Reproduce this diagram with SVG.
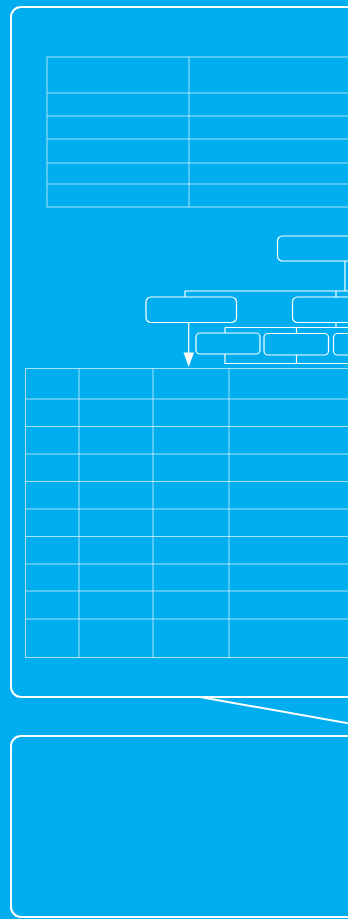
<svg xmlns="http://www.w3.org/2000/svg" width="348" height="919" viewBox="0 0 348 919">
<style>
.panel{fill:none;stroke:#fff;stroke-width:2}
.grid{fill:none;stroke:#fff;stroke-opacity:0.65;stroke-width:1}
.node{fill:none;stroke:#fff;stroke-width:1.2}
.conn{fill:none;stroke:#fff;stroke-width:1.2}
</style>
<defs>
<marker id="arr" markerWidth="10" markerHeight="14" refX="5" refY="14" orient="auto" markerUnits="userSpaceOnUse" viewBox="0 0 10 14">
<path d="M0,0 L10,0 L5,14 Z" fill="#fff" transform="rotate(-90 5 7)"/>
</marker>
</defs>
<rect width="348" height="919" fill="#00ADEF"/>
<g id="panel-top"><rect class="panel" x="11" y="7" width="360" height="690" rx="10"/></g>
<g id="panel-bottom"><rect class="panel" x="11" y="736" width="360" height="181" rx="10"/></g>
<g id="table-top" class="grid">
<rect x="47" y="57" width="330" height="150"/>
<line x1="189" y1="57" x2="189" y2="207"/>
<line x1="47" y1="93" x2="377" y2="93"/>
<line x1="47" y1="116" x2="377" y2="116"/>
<line x1="47" y1="139" x2="377" y2="139"/>
<line x1="47" y1="163" x2="377" y2="163"/>
<line x1="47" y1="184" x2="377" y2="184"/>
</g>
<g id="table-bottom" class="grid">
<rect x="25.5" y="368.5" width="350" height="289"/>
<line x1="79" y1="368.5" x2="79" y2="657.5"/>
<line x1="153" y1="368.5" x2="153" y2="657.5"/>
<line x1="229" y1="368.5" x2="229" y2="657.5"/>
<line x1="25.5" y1="399" x2="375" y2="399"/>
<line x1="25.5" y1="426.5" x2="375" y2="426.5"/>
<line x1="25.5" y1="454" x2="375" y2="454"/>
<line x1="25.5" y1="481.5" x2="375" y2="481.5"/>
<line x1="25.5" y1="509" x2="375" y2="509"/>
<line x1="25.5" y1="536.5" x2="375" y2="536.5"/>
<line x1="25.5" y1="564" x2="375" y2="564"/>
<line x1="25.5" y1="591" x2="375" y2="591"/>
<line x1="25.5" y1="619" x2="375" y2="619"/>
</g>
<g id="node-root"><rect class="node" x="277.5" y="236" width="100" height="25" rx="5"/></g>
<g id="node-left"><rect class="node" x="146" y="297" width="90.5" height="25.5" rx="5"/></g>
<g id="node-right"><rect class="node" x="292.5" y="297" width="90" height="25.5" rx="5"/></g>
<g id="node-sub1"><rect class="node" x="196" y="333" width="64" height="21" rx="4"/></g>
<g id="node-sub2"><rect class="node" x="264" y="333.5" width="64.5" height="21.5" rx="4"/></g>
<g id="node-sub3"><rect class="node" x="333.5" y="333.5" width="64.5" height="21.5" rx="4"/></g>
<g id="connectors">
<path class="conn" d="M345,261 V291 M185,291 H360 M185,291 V297 M336,291 V297"/>
<path class="conn" d="M336,322.5 V327.5 M225,327.5 H360 M225,327.5 V333 M296.5,327.5 V333.5"/>
<path class="conn" d="M225,354 V363.5 H360 M296.5,355 V363.5"/>
<line class="conn" x1="188.7" y1="322.5" x2="188.7" y2="354"/>
<path d="M183.5,352.5 L194,352.5 L188.7,367 Z" fill="#fff"/>
<line x1="200" y1="697" x2="360" y2="725.3" stroke="#fff" stroke-width="2"/>
</g>
</svg>
